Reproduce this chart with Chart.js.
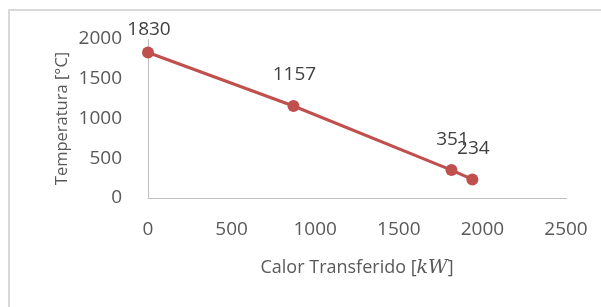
<!DOCTYPE html>
<html>
<head>
<meta charset="utf-8">
<script src="https://cdn.jsdelivr.net/npm/chart.js@4.4.1/dist/chart.umd.min.js"></script>
<style>
  html, body { margin: 0; padding: 0; background: #fff; }
  #wrap { position: relative; width: 601px; height: 307px; }
</style>
</head>
<body>
<div id="wrap"><canvas id="chart" width="601" height="307"></canvas></div>
<script>
// data
const calor = [0, 870, 1815, 1940];
const temperatura = [1830, 1157, 351, 234];
const xTicks = [0, 500, 1000, 1500, 2000, 2500];
const yTicks = [0, 500, 1000, 1500, 2000];

const lineColor = "#c0504d";
const textColor = "#595959";
const fontFamily = "'Open Sans', 'Noto Sans', sans-serif";

const points = calor.map((x, i) => ({ x: x, y: temperatura[i] }));

// light grey frame around the whole chart
const framePlugin = {
    id: "frame",
    beforeDraw(chart) {
        const ctx = chart.ctx;
        ctx.save();
        ctx.fillStyle = "#fff";
        ctx.fillRect(0, 0, chart.width, chart.height);
        ctx.strokeStyle = "#d9d9d9";
        ctx.lineWidth = 2;
        ctx.strokeRect(9, 10, 700, 400);
        ctx.restore();
    }
};

// value labels above each point
const labelPlugin = {
    id: "valueLabels",
    afterDatasetsDraw(chart) {
        const ctx = chart.ctx;
        const meta = chart.getDatasetMeta(0);
        ctx.save();
        ctx.font = "19px " + fontFamily;
        ctx.fillStyle = "#404040";
        ctx.textAlign = "center";
        ctx.textBaseline = "middle";
        meta.data.forEach((pt, i) => {
            const y = Math.max(pt.y - 31, 30);
            ctx.fillText(String(temperatura[i]), pt.x + 1, y);
        });
        ctx.restore();
    }
};

// x axis title with the italic unit
const xTitlePlugin = {
    id: "xTitle",
    afterDraw(chart) {
        const ctx = chart.ctx;
        const area = chart.chartArea;
        const parts = [
            { t: "Calor Transferido [", f: "18px " + fontFamily },
            { t: "kW", f: "italic 19px 'DejaVu Serif', serif" },
            { t: "]", f: "18px " + fontFamily }
        ];
        ctx.save();
        let total = 0;
        parts.forEach(p => { ctx.font = p.f; p.w = ctx.measureText(p.t).width; total += p.w; });
        let x = (area.left + area.right) / 2 - total / 2;
        ctx.fillStyle = textColor;
        ctx.textBaseline = "middle";
        ctx.textAlign = "left";
        parts.forEach(p => { ctx.font = p.f; ctx.fillText(p.t, x, 268); x += p.w; });
        ctx.restore();
    }
};

new Chart(document.getElementById("chart"), {
    type: "scatter",
    data: {
        datasets: [{
            label: "Temperatura",
            data: points,
            showLine: true,
            borderColor: lineColor,
            backgroundColor: lineColor,
            borderWidth: 3,
            pointRadius: 6,
            pointHoverRadius: 6,
            pointBorderWidth: 0,
            clip: false
        }]
    },
    options: {
        responsive: false,
        animation: false,
        events: [],
        layout: { padding: { top: 39, right: 35, bottom: 0, left: 0 } },
        plugins: {
            legend: { display: false },
            tooltip: { enabled: false }
        },
        scales: {
            x: {
                type: "linear",
                min: xTicks[0],
                max: xTicks[xTicks.length - 1],
                afterBuildTicks(scale) { scale.ticks = xTicks.map(v => ({ value: v })); },
                afterFit(scale) { scale.height = 109; scale.paddingLeft = 0; scale.paddingRight = 0; },
                grid: { display: false },
                border: { display: true, color: "#bfbfbf", width: 1 },
                ticks: { color: textColor, font: { family: fontFamily, size: 19 }, padding: 12, maxRotation: 0, callback: v => String(v) },
                title: { display: false, text: "Calor Transferido [kW]" }
            },
            y: {
                type: "linear",
                min: yTicks[0],
                max: yTicks[yTicks.length - 1],
                afterBuildTicks(scale) { scale.ticks = yTicks.map(v => ({ value: v })); },
                afterFit(scale) { scale.width = 148; scale.paddingTop = 0; scale.paddingBottom = 0; },
                grid: { display: false },
                border: { display: true, color: "#bfbfbf", width: 1 },
                ticks: { color: textColor, font: { family: fontFamily, size: 19 }, padding: 18, callback: v => String(v) },
                title: {
                    display: true,
                    text: "Temperatura [°C]",
                    color: textColor,
                    font: { family: fontFamily, size: 16.5 },
                    padding: { top: 52, bottom: 0 }
                }
            }
        }
    },
    plugins: [framePlugin, labelPlugin, xTitlePlugin]
});
</script>
</body>
</html>
